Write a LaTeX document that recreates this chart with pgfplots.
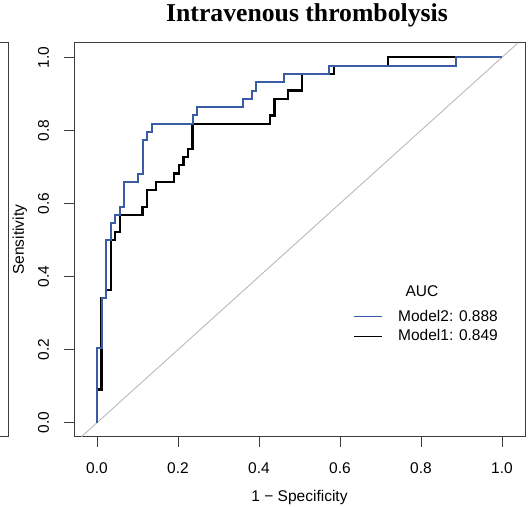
\documentclass[border=0pt]{standalone}
\usepackage{pgfplots}
\pgfplotsset{compat=1.18}
\usepackage{fontspec}
\setmainfont{Liberation Sans}
\newfontfamily\titlefont{Liberation Serif}
\definecolor{rocblue}{RGB}{58,92,165}
\definecolor{framegray}{RGB}{60,60,60}
\definecolor{diaggray}{RGB}{185,185,185}
\newcommand{\labelfont}{\fontsize{15.5}{18}\selectfont}

\begin{document}
\begin{tikzpicture}
\useasboundingbox (0,0) rectangle (532pt,-506pt);
% right edge of the neighbouring panel
\draw[framegray, line width=0.9pt] (0pt,-42.7pt) -- (8pt,-42.7pt) -- (8pt,-436.7pt) -- (0pt,-436.7pt);
\begin{axis}[
  at={(74pt,-436.7pt)}, anchor=south west,
  scale only axis, width=451pt, height=394pt,
  xmin=-0.0568, xmax=1.0568, ymin=-0.0383, ymax=1.04,
  axis line style={framegray, line width=0.9pt},
  xtick={0,0.2,0.4,0.6,0.8,1},
  xticklabels={0.0,0.2,0.4,0.6,0.8,1.0},
  ytick={0,0.2,0.4,0.6,0.8,1},
  yticklabels={0.0,0.2,0.4,0.6,0.8,1.0},
  xtick pos=bottom, ytick pos=left,
  tick align=outside, major tick length=10pt,
  tick style={framegray, line width=0.9pt},
  /pgf/number format/assume math mode=true,
  tick label style={font=\labelfont, inner sep=0pt},
  xticklabel style={anchor=north},
  yticklabel style={rotate=90, anchor=base},
  xticklabel shift=16pt, yticklabel shift=15pt,
  xlabel={1 − Specificity},
  ylabel={Sensitivity},
  label style={font=\labelfont, inner sep=0pt},
  xlabel style={at={(axis description cs:0.5,-0.1632)}, anchor=base},
  ylabel style={at={(axis description cs:-0.1109,0.5)}, anchor=base},
  title={Intravenous thrombolysis},
  title style={at={(axis description cs:0.5166,1.0398)}, anchor=base, inner sep=0pt,
    font=\titlefont\bfseries\fontsize{25.7}{30}\selectfont},
  legend cell align=left,
  legend style={draw=none, fill=none, at={(axis description cs:0.6208,0.3216)},
    anchor=north west, inner sep=0pt, outer sep=0pt, row sep=6.9pt,
    font=\labelfont, nodes={inner sep=0pt},
    /tikz/every odd column/.append style={column sep=15.3pt}},
  legend image code/.code={\draw[#1] (0pt,0pt) -- (28pt,0pt);},
]
% chance line
\addplot[diaggray, line width=0.9pt, forget plot] coordinates {(-0.0383,-0.0383) (1.04,1.04)};
% Model1
\addplot[black, line width=2.2pt, const plot, forget plot] coordinates {
  (0,0) (0,0.0909) (0.0112,0.3409) (0.0225,0.3636) (0.0337,0.5) (0.0449,0.5227)
  (0.0562,0.5682) (0.1124,0.5909) (0.1236,0.6364) (0.1461,0.6591) (0.191,0.6818)
  (0.2022,0.7045) (0.2135,0.7273) (0.2247,0.75) (0.236,0.8182) (0.427,0.8409)
  (0.4382,0.8864) (0.4719,0.9091) (0.5056,0.9545) (0.5843,0.9773) (0.7191,1) (1,1)};
% Model2
\addplot[rocblue, line width=2pt, const plot, forget plot] coordinates {
  (0,0) (0,0.2045) (0.0112,0.3409) (0.0225,0.5) (0.0337,0.5455) (0.0449,0.5682)
  (0.0562,0.5909) (0.0674,0.6591) (0.1011,0.6818) (0.1124,0.7727) (0.1236,0.7955)
  (0.1348,0.8182) (0.236,0.8409) (0.2472,0.8636) (0.3596,0.8864) (0.382,0.9091)
  (0.3933,0.9318) (0.4607,0.9545) (0.573,0.9773) (0.8876,1) (1,1)};
\addlegendimage{rocblue, line width=0.9pt}
\addlegendentry{Model2: 0.888}
\addlegendimage{black, line width=0.9pt}
\addlegendentry{Model1: 0.849}
\node[anchor=base, font=\labelfont, inner sep=0pt] at (axis description cs:0.7716,0.3546) {AUC};
\end{axis}
\end{tikzpicture}
\end{document}
